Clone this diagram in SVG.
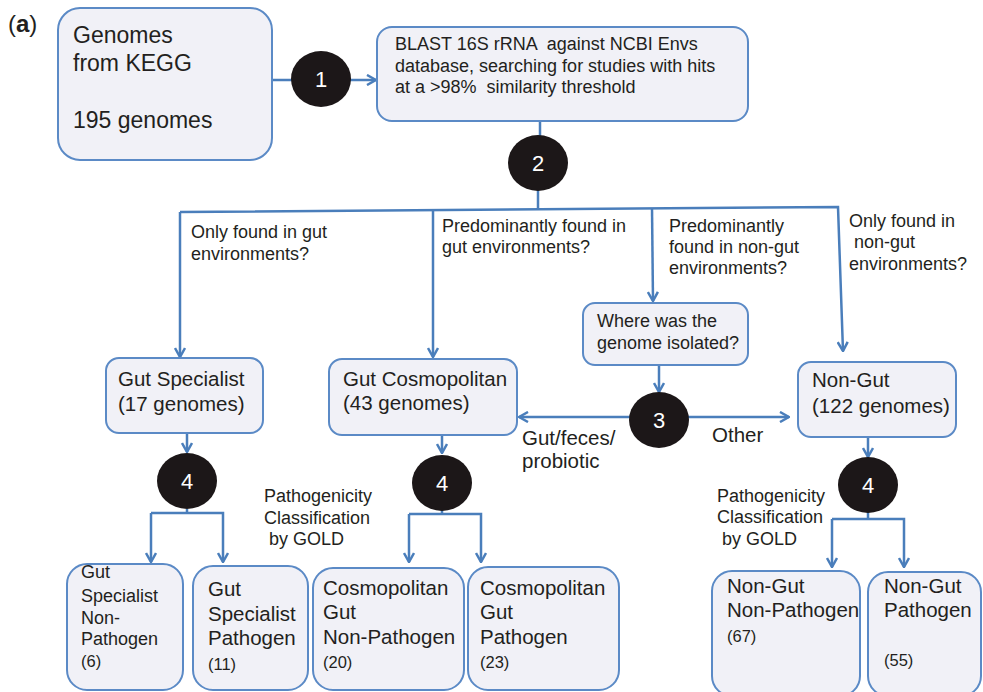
<svg xmlns="http://www.w3.org/2000/svg" width="983" height="692" viewBox="0 0 983 692">
<defs>
<style>
.box{fill:#f1f1f7;stroke:#5b8ac6;stroke-width:2}
.t{font-family:"Liberation Sans",Arial,sans-serif;fill:#231f20}
.c{fill:#1c1718}
.n{font-family:"Liberation Sans",Arial,sans-serif;fill:#ffffff;font-size:22px;text-anchor:middle}
.ln{fill:none;stroke:#4a7ebb;stroke-width:2.5}
</style>
<marker id="ah" viewBox="0 0 12 12" refX="11" refY="6" markerWidth="12" markerHeight="12" markerUnits="userSpaceOnUse" orient="auto">
<path d="M2,1 L11,6 L2,11" fill="none" stroke="#4a7ebb" stroke-width="2.5"/>
</marker>
</defs>
<rect width="983" height="692" fill="#ffffff"/>
<text class="t" x="8" y="32" font-size="24">(<tspan font-weight="bold">a</tspan>)</text>

<g id="connectors">
<line class="ln" x1="272" y1="80" x2="376" y2="80" marker-end="url(#ah)"/>
<line class="ln" x1="540" y1="121" x2="540" y2="140"/>
<line class="ln" x1="538" y1="190" x2="538" y2="210"/>
<polyline class="ln" points="180,212 838,207 843,351" marker-end="url(#ah)"/>
<line class="ln" x1="180" y1="212" x2="180" y2="357" marker-end="url(#ah)"/>
<line class="ln" x1="433" y1="211" x2="433" y2="357" marker-end="url(#ah)"/>
<line class="ln" x1="652" y1="208" x2="653" y2="301" marker-end="url(#ah)"/>
<line class="ln" x1="659" y1="365" x2="659" y2="392" marker-end="url(#ah)"/>
<line class="ln" x1="630" y1="417" x2="519" y2="417" marker-end="url(#ah)"/>
<line class="ln" x1="688" y1="417" x2="789" y2="417" marker-end="url(#ah)"/>
<line class="ln" x1="187" y1="433" x2="187" y2="452" marker-end="url(#ah)"/>
<line class="ln" x1="442" y1="435" x2="442" y2="453" marker-end="url(#ah)"/>
<line class="ln" x1="868" y1="437" x2="868" y2="457" marker-end="url(#ah)"/>
<line class="ln" x1="187" y1="509" x2="187" y2="513"/>
<polyline class="ln" points="151,513 223,513 223,562" marker-end="url(#ah)"/>
<line class="ln" x1="151" y1="513" x2="151" y2="562" marker-end="url(#ah)"/>
<line class="ln" x1="442" y1="510" x2="442" y2="514"/>
<polyline class="ln" points="409,514 481,514 481,562" marker-end="url(#ah)"/>
<line class="ln" x1="409" y1="514" x2="409" y2="562" marker-end="url(#ah)"/>
<line class="ln" x1="868" y1="512" x2="868" y2="519"/>
<polyline class="ln" points="832,519 904,519 904,567" marker-end="url(#ah)"/>
<line class="ln" x1="832" y1="519" x2="832" y2="567" marker-end="url(#ah)"/>
</g>

<g id="n-kegg">
<rect class="box" x="58" y="8" width="214" height="152" rx="22"/>
<text class="t" font-size="23" x="73" y="43">Genomes</text>
<text class="t" font-size="23" x="73" y="71">from KEGG</text>
<text class="t" font-size="23" x="73" y="128">195 genomes</text>
</g>
<g id="c1"><ellipse class="c" cx="321" cy="79" rx="30" ry="28"/><text class="n" x="321" y="87">1</text></g>

<g id="n-blast">
<rect class="box" x="377" y="27" width="371" height="94" rx="15"/>
<text class="t" font-size="18" x="395" y="50" xml:space="preserve">BLAST 16S rRNA  against NCBI Envs</text>
<text class="t" font-size="18" x="395" y="72">database, searching for studies with hits</text>
<text class="t" font-size="18" x="395" y="93" xml:space="preserve">at a &gt;98%  similarity threshold</text>
</g>
<g id="c2"><ellipse class="c" cx="538" cy="163" rx="30" ry="28"/><text class="n" x="538" y="171">2</text></g>

<g id="labels" class="t" font-size="18">
<text x="191" y="238">Only found in gut</text>
<text x="191" y="260">environments?</text>
<text x="442" y="232">Predominantly found in</text>
<text x="442" y="253">gut environments?</text>
<text x="669" y="232">Predominantly</text>
<text x="669" y="253">found in non-gut</text>
<text x="669" y="274">environments?</text>
<text x="849" y="227">Only found in</text>
<text x="849" y="248" xml:space="preserve"> non-gut</text>
<text x="849" y="270">environments?</text>
<text x="264" y="502">Pathogenicity</text>
<text x="264" y="524">Classification</text>
<text x="264" y="545" xml:space="preserve"> by GOLD</text>
<text x="717" y="502">Pathogenicity</text>
<text x="717" y="523">Classification</text>
<text x="717" y="545" xml:space="preserve"> by GOLD</text>
<text x="522" y="445" font-size="20.5">Gut/feces/</text>
<text x="522" y="468" font-size="20.5">probiotic</text>
<text x="712" y="442" font-size="20.5">Other</text>
</g>

<g id="n-where">
<rect class="box" x="583" y="303" width="165" height="62" rx="12"/>
<text class="t" font-size="18" x="597" y="327">Where was the</text>
<text class="t" font-size="18" x="597" y="349">genome isolated?</text>
</g>
<g id="c3"><ellipse class="c" cx="659" cy="420" rx="30" ry="28"/><text class="n" x="659" y="428">3</text></g>

<g id="n-gs">
<rect class="box" x="106" y="358" width="157" height="75" rx="13"/>
<text class="t" font-size="20.5" x="118" y="386">Gut Specialist</text>
<text class="t" font-size="20.5" x="118" y="411">(17 genomes)</text>
</g>
<g id="n-gc">
<rect class="box" x="329" y="359" width="188" height="76" rx="13"/>
<text class="t" font-size="20.5" x="343" y="386">Gut Cosmopolitan</text>
<text class="t" font-size="20.5" x="343" y="410">(43 genomes)</text>
</g>
<g id="n-ng">
<rect class="box" x="798" y="362" width="158" height="75" rx="13"/>
<text class="t" font-size="20.5" x="812" y="387">Non-Gut</text>
<text class="t" font-size="20.5" x="812" y="413">(122 genomes)</text>
</g>

<g id="c4a"><ellipse class="c" cx="187" cy="481" rx="30" ry="28"/><text class="n" x="187" y="489">4</text></g>
<g id="c4b"><ellipse class="c" cx="442" cy="483" rx="30" ry="28"/><text class="n" x="442" y="491">4</text></g>
<g id="c4c"><ellipse class="c" cx="868" cy="485" rx="30" ry="28"/><text class="n" x="868" y="493">4</text></g>

<g id="n-gsnp">
<rect class="box" x="67" y="564" width="116" height="126" rx="20"/>
<text class="t" font-size="18" x="81" y="578">Gut</text>
<text class="t" font-size="18" x="81" y="602">Specialist</text>
<text class="t" font-size="18" x="81" y="624">Non-</text>
<text class="t" font-size="18" x="81" y="645">Pathogen</text>
<text class="t" font-size="16.5" x="81" y="667">(6)</text>
</g>
<g id="n-gsp">
<rect class="box" x="193" y="566" width="115" height="124" rx="20"/>
<text class="t" font-size="20.5" x="208" y="596">Gut</text>
<text class="t" font-size="20.5" x="208" y="621">Specialist</text>
<text class="t" font-size="20.5" x="208" y="645">Pathogen</text>
<text class="t" font-size="16.5" x="208" y="670">(11)</text>
</g>
<g id="n-cgnp">
<rect class="box" x="313" y="568" width="151" height="122" rx="20"/>
<text class="t" font-size="20.5" x="323" y="595">Cosmopolitan</text>
<text class="t" font-size="20.5" x="323" y="619">Gut</text>
<text class="t" font-size="20.5" x="323" y="644">Non-Pathogen</text>
<text class="t" font-size="16.5" x="323" y="668">(20)</text>
</g>
<g id="n-cgp">
<rect class="box" x="468" y="567" width="151" height="123" rx="20"/>
<text class="t" font-size="20.5" x="480" y="595">Cosmopolitan</text>
<text class="t" font-size="20.5" x="480" y="619">Gut</text>
<text class="t" font-size="20.5" x="480" y="644">Pathogen</text>
<text class="t" font-size="16.5" x="480" y="668">(23)</text>
</g>
<g id="n-ngnp">
<rect class="box" x="712" y="571" width="148" height="125" rx="20"/>
<text class="t" font-size="20.5" x="727" y="593">Non-Gut</text>
<text class="t" font-size="20.5" x="727" y="617">Non-Pathogen</text>
<text class="t" font-size="16.5" x="727" y="642">(67)</text>
</g>
<g id="n-ngp">
<rect class="box" x="868" y="572" width="113" height="124" rx="20"/>
<text class="t" font-size="20.5" x="884" y="593">Non-Gut</text>
<text class="t" font-size="20.5" x="884" y="617">Pathogen</text>
<text class="t" font-size="16.5" x="884" y="666">(55)</text>
</g>
</svg>
